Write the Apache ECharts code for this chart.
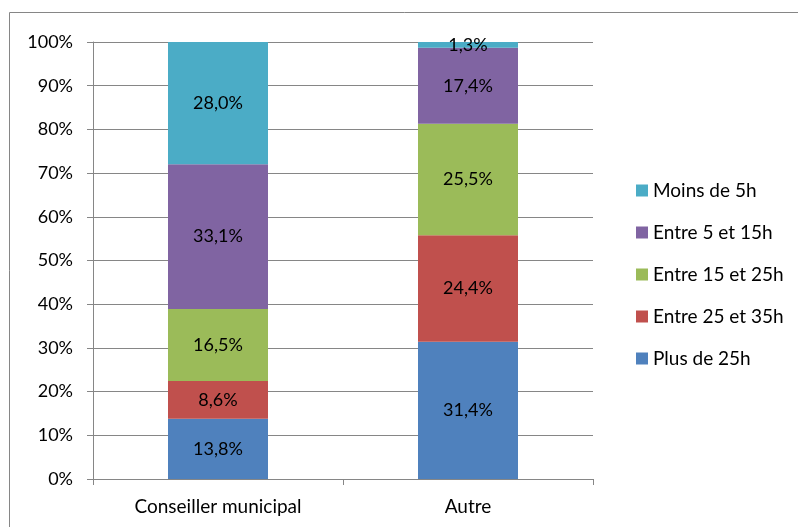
<!DOCTYPE html>
<html>
<head>
<meta charset="utf-8">
<script src="https://cdn.jsdelivr.net/npm/echarts@6/dist/echarts.min.js"></script>
<style>
  html, body { margin: 0; padding: 0; background: #fff; }
  #chart { width: 798px; height: 527px; }
</style>
</head>
<body>
<div id="chart"></div>
<script>
// Catégories et valeurs (en %)
const categories = ['Conseiller municipal', 'Autre'];
const plus25 = [13.8, 31.4];
const entre25et35 = [8.6, 24.4];
const entre15et25 = [16.5, 25.5];
const entre5et15 = [33.1, 17.4];
const moins5 = [28.0, 1.3];
const yTicks = [0, 10, 20, 30, 40, 50, 60, 70, 80, 90, 100];

const font = 'Lato';

function fmt(v) {
    return v.toFixed(1).replace('.', ',') + '%';
}

function serie(name, data, color) {
    return {
        name: name,
        type: 'bar',
        stack: 'total',
        barWidth: '40%',
        data: data,
        itemStyle: { color: color },
        label: {
            show: true,
            position: 'inside',
            color: '#000',
            fontFamily: font,
            fontSize: 18,
            formatter: (p) => fmt(p.value)
        }
    };
}

const chart = echarts.init(document.getElementById('chart'), null, { renderer: 'canvas' });

const option = {
    animation: false,
    graphic: [{
        type: 'rect',
        shape: { x: 9.5, y: 12.5, width: 800, height: 530 },
        style: { fill: null, stroke: '#868686', lineWidth: 1 },
        silent: true
    }],
    grid: { left: 93, right: 205, top: 42, bottom: 48 },
    legend: {
        orient: 'vertical',
        left: 631,
        top: 176,
        itemWidth: 12,
        itemHeight: 12,
        itemGap: 23,
        icon: 'rect',
        textStyle: { fontFamily: font, fontSize: 19, color: '#000' },
        data: ['Moins de 5h', 'Entre 5 et 15h', 'Entre 15 et 25h', 'Entre 25 et 35h', 'Plus de 25h']
    },
    xAxis: {
        type: 'category',
        data: categories,
        axisLine: { lineStyle: { color: '#868686' } },
        axisTick: { show: true, length: 6, lineStyle: { color: '#868686' } },
        axisLabel: { color: '#000', fontFamily: font, fontSize: 19, margin: 18 }
    },
    yAxis: {
        type: 'value',
        min: yTicks[0],
        max: yTicks[yTicks.length - 1],
        interval: 10,
        axisLine: { show: true, lineStyle: { color: '#868686' } },
        axisTick: { show: true, length: 6, lineStyle: { color: '#868686' } },
        splitLine: { lineStyle: { color: '#868686' } },
        axisLabel: { color: '#000', fontFamily: font, fontSize: 18, margin: 20, formatter: '{value}%' }
    },
    series: [
        serie('Plus de 25h', plus25, '#4F81BD'),
        serie('Entre 25 et 35h', entre25et35, '#C0504D'),
        serie('Entre 15 et 25h', entre15et25, '#9BBB59'),
        serie('Entre 5 et 15h', entre5et15, '#8064A2'),
        serie('Moins de 5h', moins5, '#4BACC6')
    ]
};

chart.setOption(option);
</script>
</body>
</html>
